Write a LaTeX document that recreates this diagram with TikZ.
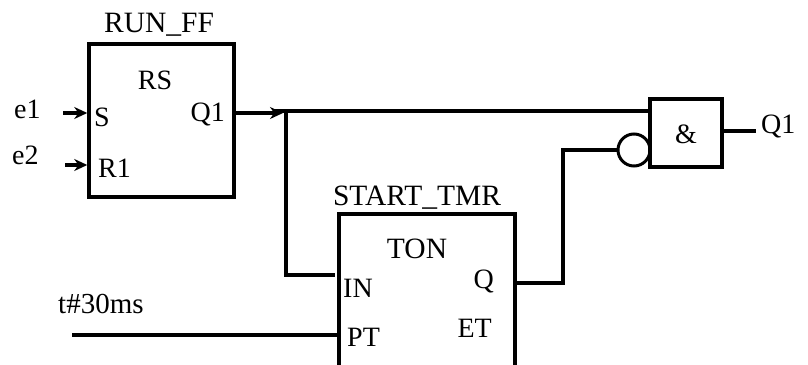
\documentclass[tikz,border=0pt]{standalone}
\usepackage{fontspec}
\setmainfont{Liberation Serif}
\usetikzlibrary{positioning,arrows.meta}
\tikzset{
	wire/.style={line width=3.5pt},
	block/.style={draw,line width=3.5pt,rectangle,inner sep=0pt},
	txt/.style={inner sep=0pt,font=\fontsize{28}{28}\selectfont},
	title/.style={inner sep=0pt,anchor=base,font=\fontsize{29.5}{29.5}\selectfont},
}
\begin{document}
\begin{tikzpicture}	[>={Stealth[length=13pt,width=12pt]},x=1pt,y=-1pt]
	
	\clip (0,0) rectangle (808,364);
	
	% the three blocks
	\node[block,minimum width=145pt,minimum height=153pt] (FF) at (161.5,120.5) {};
	\node[block,minimum width=176pt,minimum height=180pt] (TMR) at (427,304) {};
	\node[block,minimum width=72pt,minimum height=68pt] (AND) at (686,133) {};
	\node[draw,line width=3pt,circle,inner sep=0pt,minimum size=32pt] (NEG) at (634,150) {};
	
	\coordinate (E1) at (63,113);
	\coordinate (E2) at (65,165);
	\coordinate (J) at (286,111);    % branch to the timer
	\coordinate (T) at (72,335);
	\coordinate (Q) at (563,283);
	\coordinate (OUT) at (756,131);
	
	% block names
	\node[title] (FFname) at (159,32) {RUN\_FF};
	\node[title] (TMRname) at (417,205) {START\_TMR};
	\node[txt,anchor=base] (FFtype) at (155,89) {RS};
	\node[title] (TMRtype) at (417,258) {TON};
	\node[txt,anchor=base] (ANDtype) at (686,143) {\&};
	
	% pins
	\node[txt,anchor=base west] (S) at (94,126) {S};
	\node[txt,anchor=base west] (R1) at (98,177) {R1};
	\node[txt,anchor=base east] (Q1) at (225,121) {Q1};
	\node[txt,anchor=base west] (IN) at (343,297) {IN};
	\node[txt,anchor=base west] (PT) at (347,346) {PT};
	\node[txt,anchor=base east] (QT) at (494,288) {Q};
	\node[txt,anchor=base east] (ET) at (492,337) {ET};
	
	% signals
	\node[txt,anchor=base west] (e1) at (14,118) {e1};
	\node[txt,anchor=base west] (e2) at (12,164) {e2};
	\node[txt,anchor=base west,font=\fontsize{29}{29}\selectfont] (time) at (58,313) {t\#30ms};
	\node[txt,anchor=base west] (out) at (761,133) {Q1};
	
	\draw[->,wire] (E1) -- (E1 -| FF.west);
	\draw[->,wire] (E2) -- (E2 -| FF.west);
	\draw[->,wire,shorten >=3pt] (FF.east |- E1) -- (J |- E1);
	\draw[wire] (275,111) -- (J -| AND.west);
	\draw[wire] (J) -- (J |- 0,275) -- (335,275);
	\draw[wire] (T) -- (T -| TMR.west);
	\draw[wire] (Q -| TMR.east) -- (Q) -- (Q |- NEG.west) -- (NEG.west);
	\draw[wire] (OUT -| AND.east) -- (OUT);
	
\end{tikzpicture}
\end{document}
